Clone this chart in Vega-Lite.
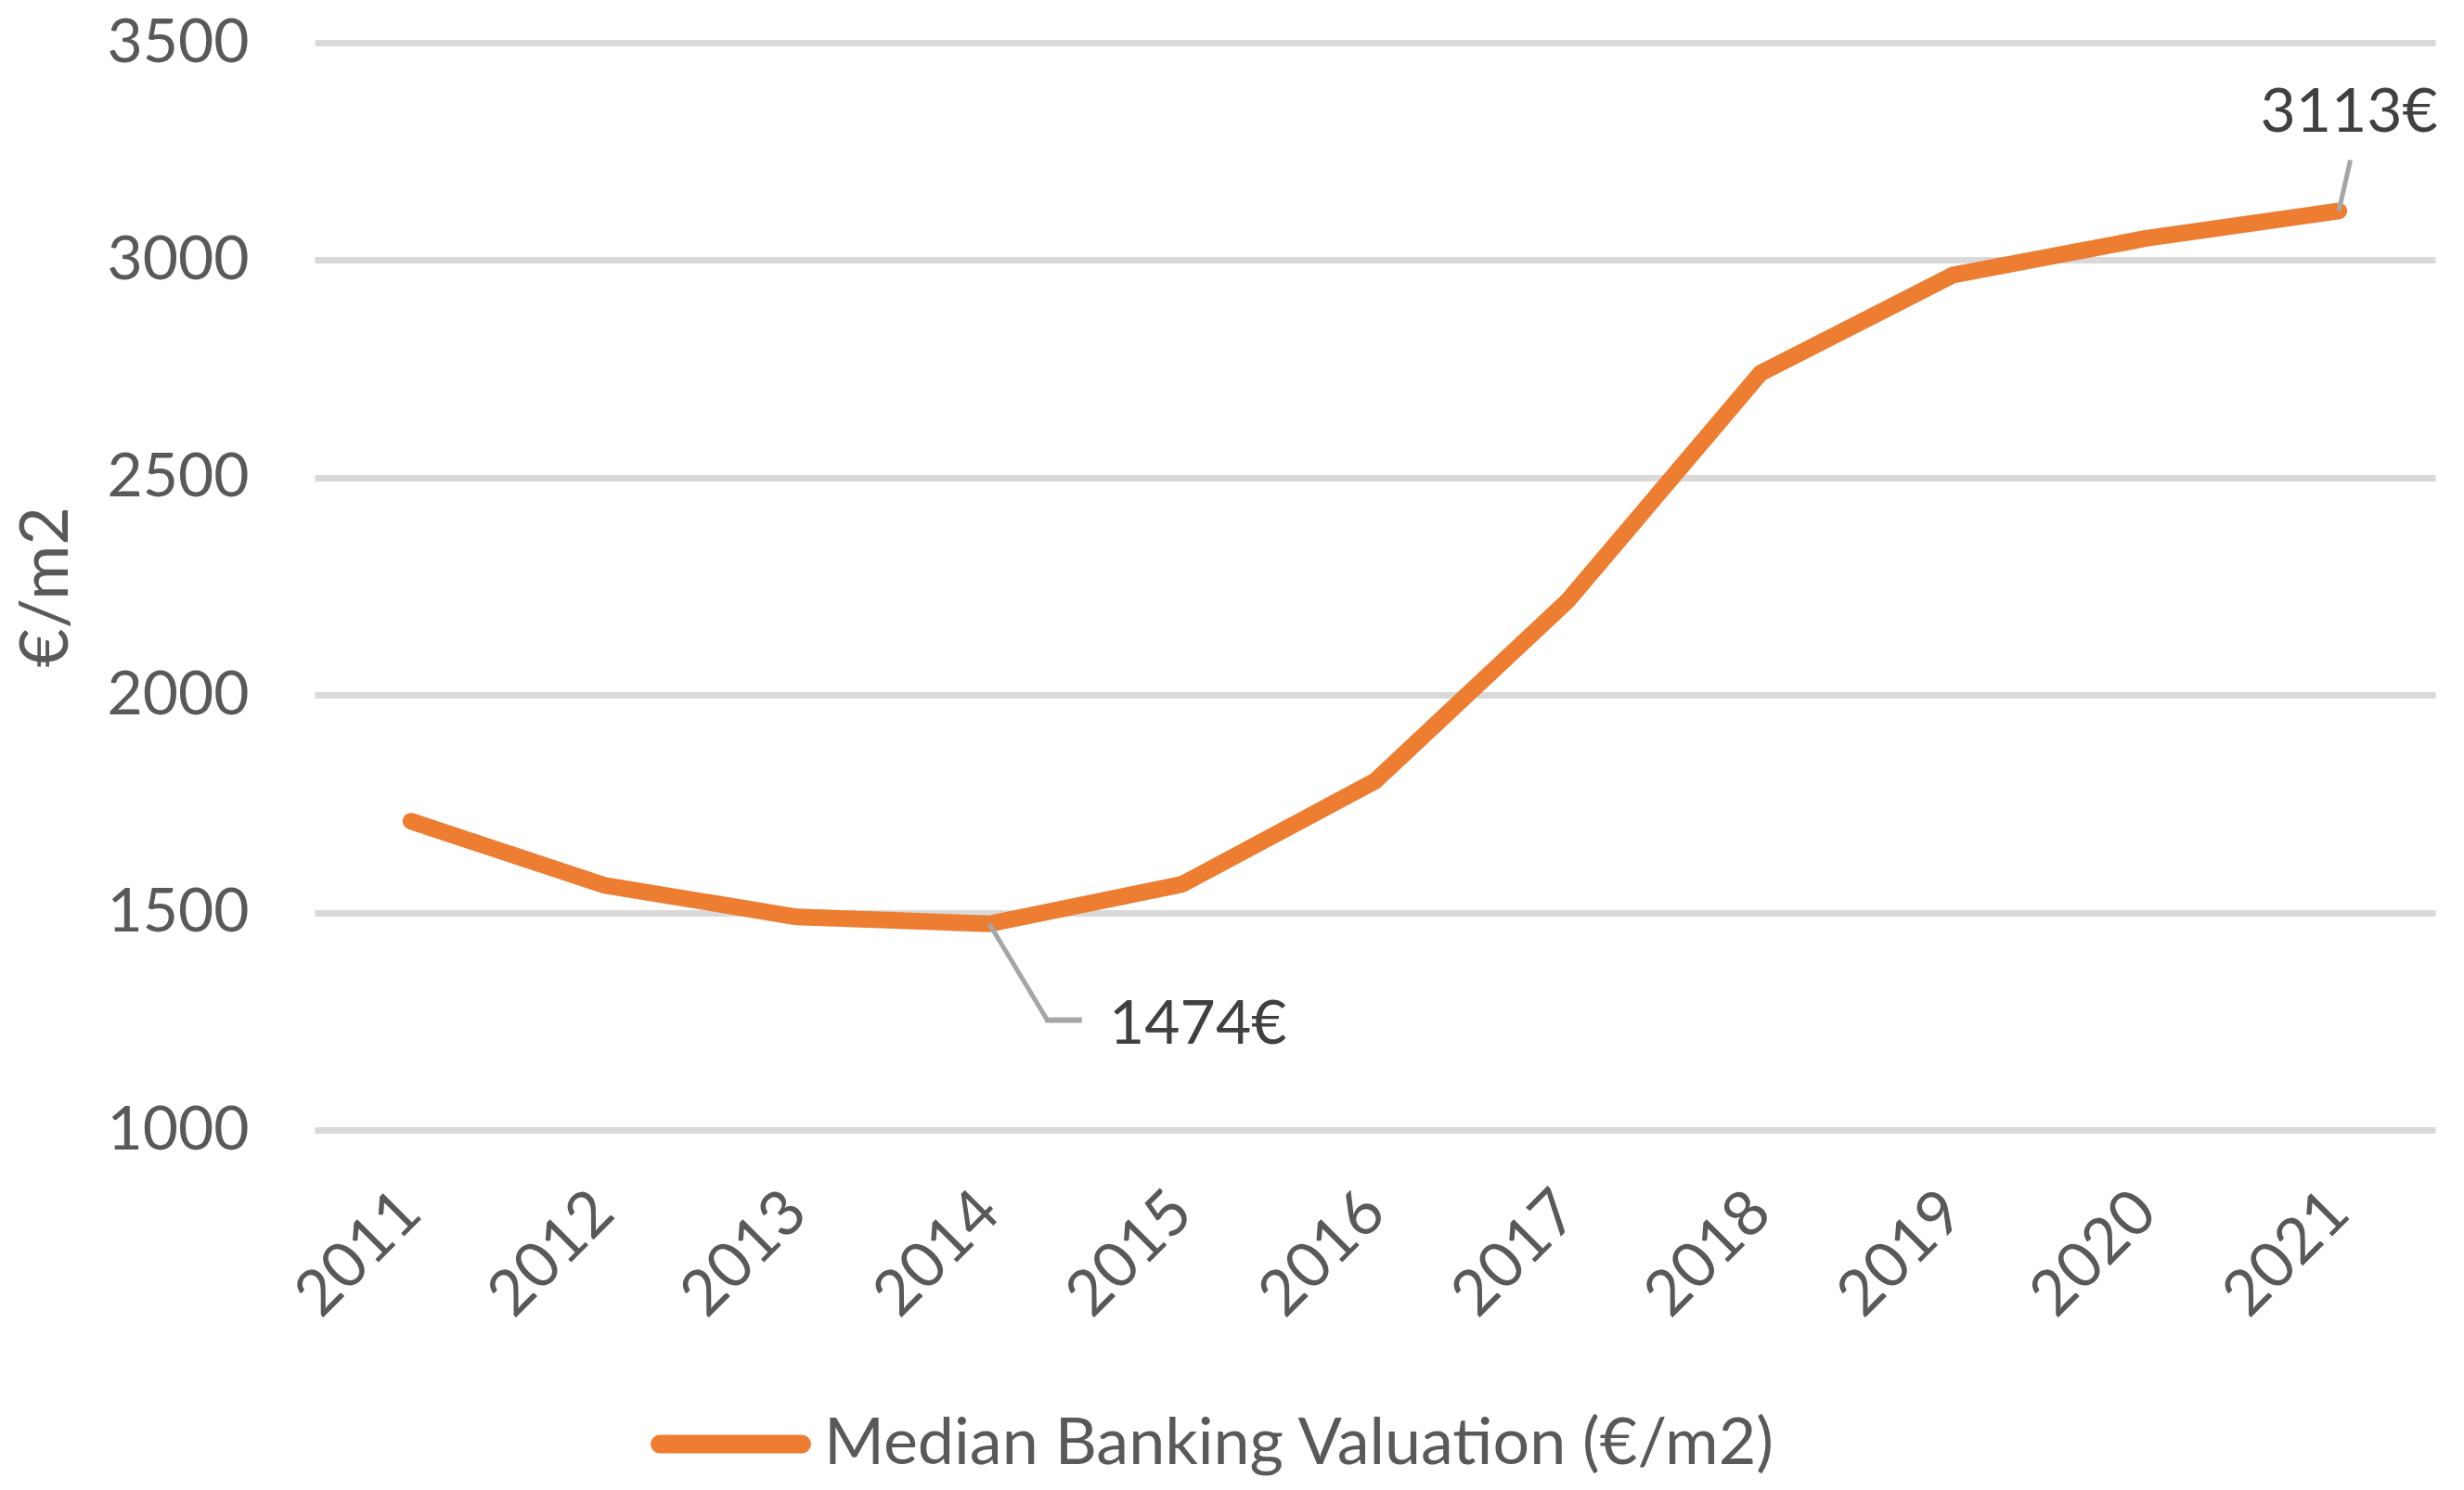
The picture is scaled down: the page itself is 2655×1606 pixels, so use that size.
{
  "$schema": "https://vega.github.io/schema/vega-lite/v6.json",
  "width": 2285,
  "height": 1172,
  "autosize": {"type": "none"},
  "padding": {"left": 339, "top": 46, "right": 31, "bottom": 388},
  "background": "white",
  "config": {"view": {"stroke": null}, "font": "Lato"},
  "data": {
    "values": [
      {"year": 2011, "value": 1710, "series": "Median Banking Valuation (€/m2)"},
      {"year": 2012, "value": 1563, "series": "Median Banking Valuation (€/m2)"},
      {"year": 2013, "value": 1490, "series": "Median Banking Valuation (€/m2)"},
      {"year": 2014, "value": 1474, "series": "Median Banking Valuation (€/m2)", "label": "1474€"},
      {"year": 2015, "value": 1565, "series": "Median Banking Valuation (€/m2)"},
      {"year": 2016, "value": 1802, "series": "Median Banking Valuation (€/m2)"},
      {"year": 2017, "value": 2217, "series": "Median Banking Valuation (€/m2)"},
      {"year": 2018, "value": 2740, "series": "Median Banking Valuation (€/m2)"},
      {"year": 2019, "value": 2966, "series": "Median Banking Valuation (€/m2)"},
      {"year": 2020, "value": 3050, "series": "Median Banking Valuation (€/m2)"},
      {"year": 2021, "value": 3113, "series": "Median Banking Valuation (€/m2)", "label": "3113€"}
    ]
  },
  "layer": [
    {
      "mark": {"type": "line", "strokeWidth": 18, "strokeCap": "round", "strokeJoin": "round"},
      "encoding": {
        "x": {
          "field": "year", "type": "quantitative",
          "scale": {"domain": [2010.5, 2021.5], "nice": false, "zero": false},
          "axis": {
            "values": [2011, 2012, 2013, 2014, 2015, 2016, 2017, 2018, 2019, 2020, 2021],
            "format": "d", "labelAngle": -45, "labelAlign": "right", "labelBaseline": "middle",
            "labelPadding": 78, "labelFont": "Lato", "labelFontSize": 68, "labelColor": "#595959",
            "labelFlush": false, "labelOverlap": false, "labelBound": false,
            "domain": false, "ticks": false, "grid": false, "title": null
          }
        },
        "y": {
          "field": "value", "type": "quantitative",
          "scale": {"domain": [1000, 3500], "nice": false, "zero": false},
          "axis": {
            "values": [1000, 1500, 2000, 2500, 3000, 3500], "format": "d",
            "gridColor": "#D9D9D9", "gridWidth": 7, "domain": false, "ticks": false,
            "labelPadding": 71, "labelFont": "Lato", "labelFontSize": 66, "labelColor": "#595959",
            "title": "€/m2", "titleFont": "Lato", "titleFontSize": 72, "titleFontWeight": "normal",
            "titleColor": "#595959", "titleAngle": -90, "titleX": -289, "titleY": 586,
            "titleAlign": "center", "titleBaseline": "middle"
          }
        },
        "color": {
          "field": "series", "type": "nominal",
          "scale": {"range": ["#ED7D31"]},
          "legend": {
            "orient": "none", "legendX": 362, "legendY": 1424, "direction": "horizontal",
            "title": null, "padding": 0,
            "labelFont": "Lato", "labelFontSize": 70, "labelColor": "#595959", "labelLimit": 2000,
            "symbolType": "stroke", "symbolStrokeWidth": 20, "symbolSize": 23400,
            "labelOffset": 14,
            "encode": {"symbols": {"update": {"strokeCap": {"value": "round"}}}}
          }
        }
      }
    },
    {
      "transform": [{"filter": "datum.year === 2014"}],
      "mark": {"type": "rule", "color": "#A6A6A6", "strokeWidth": 5},
      "encoding": {
        "x": {"field": "year", "type": "quantitative"},
        "y": {"field": "value", "type": "quantitative"},
        "x2": {"datum": 2014.3},
        "y2": {"datum": 1253}
      }
    },
    {
      "transform": [{"filter": "datum.year === 2014"}],
      "mark": {"type": "rule", "color": "#A6A6A6", "strokeWidth": 6},
      "encoding": {
        "x": {"datum": 2014.29},
        "y": {"datum": 1253},
        "x2": {"datum": 2014.48}
      }
    },
    {
      "transform": [{"filter": "datum.year === 2021"}],
      "mark": {"type": "rule", "color": "#A6A6A6", "strokeWidth": 5},
      "encoding": {
        "x": {"field": "year", "type": "quantitative"},
        "y": {"field": "value", "type": "quantitative"},
        "x2": {"datum": 2021.06},
        "y2": {"datum": 3230}
      }
    },
    {
      "transform": [{"filter": "datum.year === 2014"}],
      "mark": {"type": "text", "align": "left", "baseline": "alphabetic", "dx": 129, "dy": 129,
               "font": "Lato", "fontSize": 66, "color": "#404040"},
      "encoding": {
        "x": {"field": "year", "type": "quantitative"},
        "y": {"field": "value", "type": "quantitative"},
        "text": {"field": "label"}
      }
    },
    {
      "transform": [{"filter": "datum.year === 2021"}],
      "mark": {"type": "text", "align": "center", "baseline": "alphabetic", "dx": 11, "dy": -85,
               "font": "Lato", "fontSize": 66, "color": "#404040"},
      "encoding": {
        "x": {"field": "year", "type": "quantitative"},
        "y": {"field": "value", "type": "quantitative"},
        "text": {"field": "label"}
      }
    }
  ]
}
